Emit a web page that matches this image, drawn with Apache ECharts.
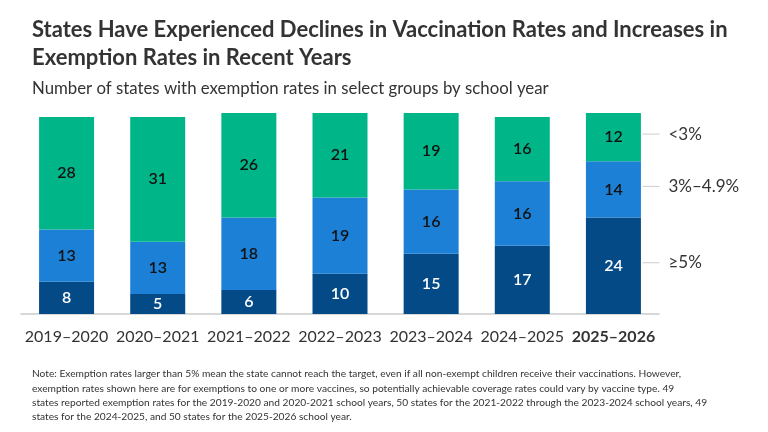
<!DOCTYPE html>
<html>
<head>
<meta charset="utf-8">
<script src="https://cdn.jsdelivr.net/npm/echarts@6/dist/echarts.min.js"></script>
<style>html,body{margin:0;padding:0;background:#fff}#c{width:768px;height:432px}</style>
</head>
<body>
<div id="c"></div>
<script>
const categories = ['2019–2020','2020–2021','2021–2022','2022–2023','2023–2024','2024–2025','2025–2026'];
const over5 = [8,5,6,10,15,17,24];
const mid3to5 = [13,13,18,19,16,16,14];
const under3 = [28,31,26,21,19,16,12];
const groupLabels = ['≥5%','3%–4.9%','<3%'];

const FONT = 'Lato, "Noto Sans", sans-serif';
const chart = echarts.init(document.getElementById('c'));

const last = categories.length - 1;
const lastVals = [over5[last], mid3to5[last], under3[last]];
const sideData = [];
let acc = 0;
lastVals.forEach((v, i) => { sideData.push([last, acc + v / 2, groupLabels[i]]); acc += v; });

function barSeries(name, data, color, textColor) {
  return {
    name, type: 'bar', stack: 'a', data, barWidth: 55,
    itemStyle: { color },
    label: { show: true, position: 'inside', color: textColor, fontFamily: FONT, fontSize: 16, fontWeight: 600 },
    emphasis: { disabled: true }
  };
}

chart.setOption({
  animation: false,
  title: [
    { text: 'States Have Experienced Declines in Vaccination Rates and Increases in\nExemption Rates in Recent Years',
      left: 27, top: 11, textStyle: { fontFamily: FONT, fontSize: 22, fontWeight: 'bold', color: '#333', lineHeight: 28 } },
    { text: 'Number of states with exemption rates in select groups by school year',
      left: 27, top: 75, textStyle: { fontFamily: FONT, fontSize: 16.8, fontWeight: 'normal', color: '#333' } },
    { text: 'Note: Exemption rates larger than 5% mean the state cannot reach the target, even if all non-exempt children receive their vaccinations. However,\nexemption rates shown here are for exemptions to one or more vaccines, so potentially achievable coverage rates could vary by vaccine type. 49\nstates reported exemption rates for the 2019-2020 and 2020-2021 school years, 50 states for the 2021-2022 through the 2023-2024 school years, 49\nstates for the 2024-2025, and 50 states for the 2025-2026 school year.',
      left: 27, top: 362, textStyle: { fontFamily: FONT, fontSize: 10.2, fontWeight: 'normal', color: '#333', lineHeight: 14.3 } }
  ],
  grid: { left: 21, right: 109, top: 113, bottom: 118 },
  xAxis: {
    type: 'category', data: categories,
    axisLine: { lineStyle: { color: '#ccc', width: 1.5 } },
    axisTick: { show: false },
    axisLabel: {
      interval: 0, margin: 15, fontFamily: FONT, fontSize: 16, color: '#333',
      formatter: (v, i) => i === last ? '{b|' + v + '}' : v,
      rich: { b: { fontFamily: FONT, fontSize: 16, fontWeight: 'bold', color: '#333' } }
    }
  },
  yAxis: { type: 'value', min: 0, max: 50, show: false, splitLine: { show: false } },
  series: [
    barSeries('≥5%', over5, '#034a87', '#fff'),
    barSeries('3%–4.9%', mid3to5, '#1c80d6', '#111'),
    barSeries('<3%', under3, '#00b688', '#111'),
    {
      type: 'custom', data: sideData, silent: true, z: 10,
      renderItem: function (params, api) {
        const p = api.coord([api.value(0), api.value(1)]);
        const x0 = p[0] + 29;
        return {
          type: 'group',
          children: [
            { type: 'line', shape: { x1: x0, y1: p[1] - 3, x2: x0 + 17, y2: p[1] - 3 }, style: { stroke: '#ccc', lineWidth: 1 } },
            { type: 'text', x: x0 + 26, y: p[1] - 3, style: { text: sideData[params.dataIndex][2], fontFamily: FONT, fontSize: 17, fill: '#333', verticalAlign: 'middle', align: 'left' } }
          ]
        };
      }
    }
  ]
});
</script>
</body>
</html>
